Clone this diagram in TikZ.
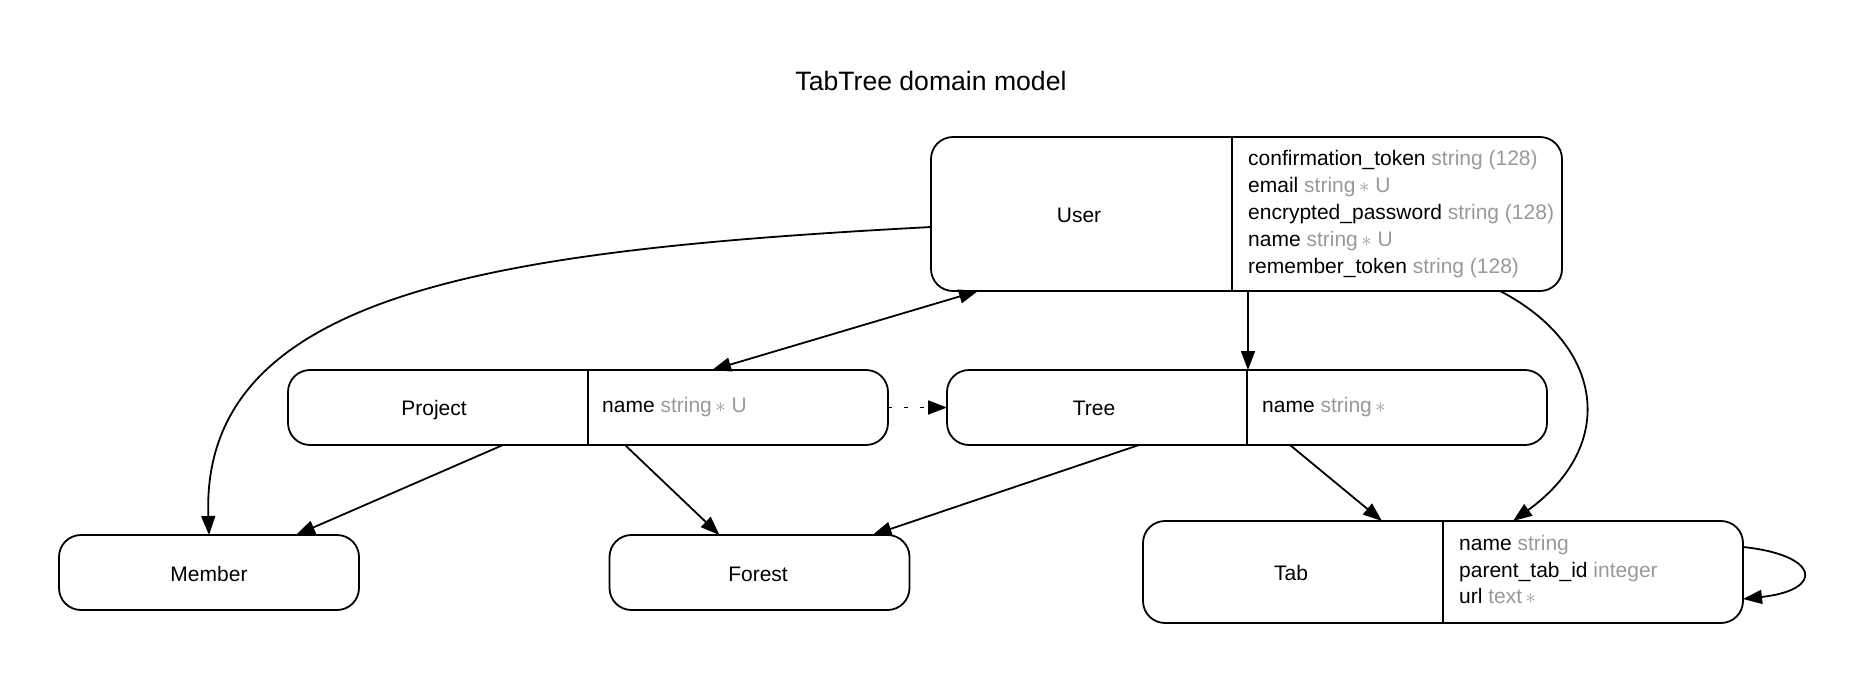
\documentclass[tikz,border=0pt]{standalone}
\usepackage{fontspec}
\setmainfont{Liberation Sans}
\usetikzlibrary{arrows.meta,calc}
\definecolor{typegray}{RGB}{153,153,153}
\newcommand\ty[1]{\textcolor{typegray}{#1}}
\newcommand\reqmark{\,$\ast$}
\begin{document}
\begin{tikzpicture}[x=1pt,y=-1pt,
  entity/.style={draw, line width=1.8pt, rounded corners=22pt, inner sep=0pt, outer sep=0pt},
  divider/.style={line width=1.8pt},
  lbl/.style={anchor=base, inner sep=0pt, font=\fontsize{21}{25}\selectfont},
  fld/.style={anchor=base west, inner sep=0pt, font=\fontsize{21}{25}\selectfont},
  conn/.style={line width=1.8pt, -{Triangle[length=19pt,width=14pt]}},
  biconn/.style={line width=1.8pt, {Triangle[length=19pt,width=14pt]}-{Triangle[length=19pt,width=14pt]}},
]
\useasboundingbox (0,0) rectangle (1864,685);

\node[anchor=base, inner sep=0pt, font=\fontsize{26.6}{32}\selectfont] (title) at (931,91) {TabTree domain model};

% entities
\node[entity, minimum width=631pt, minimum height=154pt] (user) at (1246.5,214) {};
\node[entity, minimum width=600pt, minimum height=75pt] (project) at (588,407.5) {};
\node[entity, minimum width=600pt, minimum height=75pt] (tree) at (1247,407.5) {};
\node[entity, minimum width=600pt, minimum height=102pt] (tab) at (1443,572) {};
\node[entity, minimum width=300pt, minimum height=75pt] (member) at (209,572.5) {};
\node[entity, minimum width=300pt, minimum height=75pt] (forest) at (759.5,572.5) {};

% dividers
\draw[divider] ($(user.north west)+(301,0)$) -- ($(user.south west)+(301,0)$);
\draw[divider] (project.north) -- (project.south);
\draw[divider] (tree.north) -- (tree.south);
\draw[divider] (tab.north) -- (tab.south);

% labels
\node[lbl] (userlbl) at (1079,222) {User};
\node[fld] (uf1) at (1248,165) {confirmation\_token \ty{string (128)}};
\node[fld] (uf2) at (1248,192) {email \ty{string\reqmark\ U}};
\node[fld] (uf3) at (1248,219) {encrypted\_password \ty{string (128)}};
\node[fld] (uf4) at (1248,246) {name \ty{string\reqmark\ U}};
\node[fld] (uf5) at (1248,273) {remember\_token \ty{string (128)}};

\node[lbl] (projectlbl) at (434,415) {Project};
\node[fld] (pf1) at (602,412) {name \ty{string\reqmark\ U}};

\node[lbl] (treelbl) at (1094,415) {Tree};
\node[fld] (tf1) at (1262,412) {name \ty{string\reqmark}};

\node[lbl] (tablbl) at (1291,580) {Tab};
\node[fld] (bf1) at (1459,550) {name \ty{string}};
\node[fld] (bf2) at (1459,577) {parent\_tab\_id \ty{integer}};
\node[fld] (bf3) at (1459,603) {url \ty{text\reqmark}};

\node[lbl] (memberlbl) at (209,581) {Member};
\node[lbl] (forestlbl) at (758,581) {Forest};

% connectors
\draw[conn] ($(user.west)+(0,13)$) .. controls (500,250) and (200,290) .. (member.north);
\draw[biconn] ($(project.north west)+(424,0)$) -- ($(user.south west)+(47,0)$);
\draw[conn] ($(user.south west)+(317,0)$) -- ($(tree.north west)+(301,0)$);
\draw[conn] ($(user.south west)+(569,0)$) .. controls (1604,345) and (1618,445) .. ($(tab.north west)+(370,0)$);
\draw[conn, dash pattern=on 4pt off 12pt] (project.east) -- (tree.west);
\draw[conn] ($(project.south west)+(215,0)$) -- ($(member.north west)+(237,0)$);
\draw[conn] ($(project.south west)+(337,0)$) -- ($(forest.north west)+(110,0)$);
\draw[conn] ($(tree.south west)+(192,0)$) -- ($(forest.north west)+(263,0)$);
\draw[conn] ($(tree.south west)+(343,0)$) -- ($(tab.north west)+(239,0)$);
\draw[conn] ($(tab.north east)+(0,26)$) .. controls (1820,555) and (1825,590) .. ($(tab.north east)+(0,78)$);
\end{tikzpicture}
\end{document}
